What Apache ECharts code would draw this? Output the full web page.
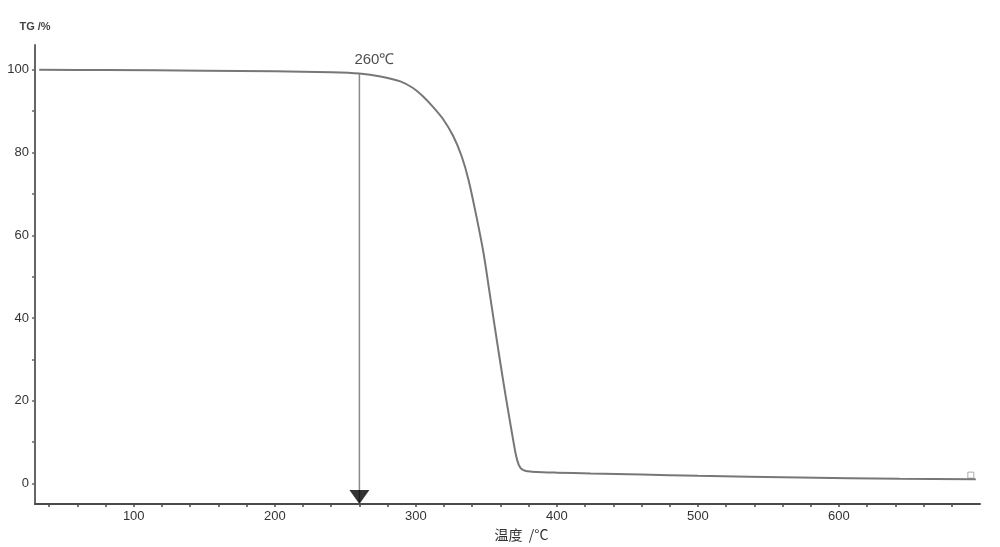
<!DOCTYPE html>
<html>
<head>
<meta charset="utf-8">
<script src="https://cdn.jsdelivr.net/npm/echarts@6/dist/echarts.min.js"></script>
<style>html,body{margin:0;padding:0;background:#fff}#c{width:1000px;height:547px}</style>
</head>
<body>
<div id="c"></div>
<script>
// Data
const temps = [33, 80, 150, 200, 240, 260, 275, 289, 298, 305, 312, 319.5, 326.5, 332.5, 337.5, 343, 348, 352, 356, 360, 364, 368, 371, 373, 375, 378, 382, 390, 400, 424, 460, 500, 572, 643, 697];
const tgValues = [100.0, 99.95, 99.8, 99.65, 99.4, 99.1, 98.4, 97.2, 95.6, 93.6, 91.1, 88.0, 84.0, 79.1, 73.2, 64.5, 55.7, 46.8, 37.8, 29.0, 20.5, 12.5, 6.8, 4.5, 3.5, 3.0, 2.85, 2.7, 2.6, 2.4, 2.15, 1.85, 1.45, 1.1, 1.0];
const xTickLabels = [100, 200, 300, 400, 500, 600];
const xMinorTicks = [40, 60, 80, 100, 120, 140, 160, 180, 200, 220, 240, 260, 280, 300, 320, 340, 360, 380, 400, 420, 440, 460, 480, 500, 520, 540, 560, 580, 600, 620, 640, 660, 680];
const yTickLabels = [0, 20, 40, 60, 80, 100];
const yMinorTicks = [0, 10, 20, 30, 40, 50, 60, 70, 80, 90, 100];
const onsetTemp = 260;
const onsetTG = 99.1;
const onsetLabel = '260℃';
const endMarker = [693.5, 2.0];

const xMin = 30, xMax = 700, yMin = -5, yMax = 106;

const chart = echarts.init(document.getElementById('c'));
const lineData = temps.map((t, i) => [t, tgValues[i]]);

chart.setOption({
  animation: false,
  backgroundColor: '#ffffff',
  textStyle: { fontFamily: 'Liberation Sans, Arial, sans-serif' },
  grid: { left: 35, right: 20, top: 45, bottom: 40 },
  xAxis: {
    type: 'value', min: xMin, max: xMax,
    name: '温度  /°C',
    nameLocation: 'middle',
    nameGap: 14,
    nameTextStyle: { color: '#333', fontSize: 14, fontFamily: 'Noto Sans CJK SC, sans-serif', padding: [0, 0, 0, 28] },
    axisLine: { onZero: false, lineStyle: { color: '#4a4a4a', width: 2 } },
    axisTick: { show: true, length: 3, customValues: xMinorTicks, lineStyle: { color: '#4a4a4a', width: 1.5 } },
    axisLabel: { customValues: xTickLabels, color: '#333', fontSize: 13, margin: 6 },
    splitLine: { show: false }
  },
  yAxis: {
    type: 'value', min: yMin, max: yMax,
    name: 'TG /%',
    nameLocation: 'end',
    nameGap: 13,
    nameTextStyle: { color: '#444', fontSize: 11, fontWeight: 'bold', align: 'center' },
    axisLine: { show: true, onZero: false, lineStyle: { color: '#666', width: 2 } },
    axisTick: { show: true, length: 3, customValues: yMinorTicks, lineStyle: { color: '#666', width: 1.5 } },
    axisLabel: { customValues: yTickLabels, color: '#333', fontSize: 13, margin: 6 },
    splitLine: { show: false }
  },
  series: [
    {
      type: 'line', data: lineData, smooth: 0.3, symbol: 'none',
      lineStyle: { color: '#777', width: 2 }, z: 3
    },
    {
      type: 'line', data: [[onsetTemp, onsetTG], [onsetTemp, yMin]], symbol: 'none',
      lineStyle: { color: '#8a8a8a', width: 1.5 }, z: 2
    },
    {
      type: 'scatter', data: [[onsetTemp, yMin]],
      symbol: 'path://M0,0 L20,0 L10,14 Z', symbolSize: [20, 14], symbolOffset: [0, -7],
      itemStyle: { color: '#000' }, z: 4
    },
    {
      type: 'scatter', data: [[onsetTemp, onsetTG]], symbolSize: 0,
      label: { show: true, formatter: onsetLabel, position: 'top', distance: 6, align: 'left', offset: [-5, 0], color: '#222', fontSize: 15 }
    },
    {
      type: 'scatter', data: [endMarker], symbol: 'rect', symbolSize: 6,
      itemStyle: { color: '#fff', borderColor: '#999', borderWidth: 1 }
    }
  ]
});
</script>
</body>
</html>
